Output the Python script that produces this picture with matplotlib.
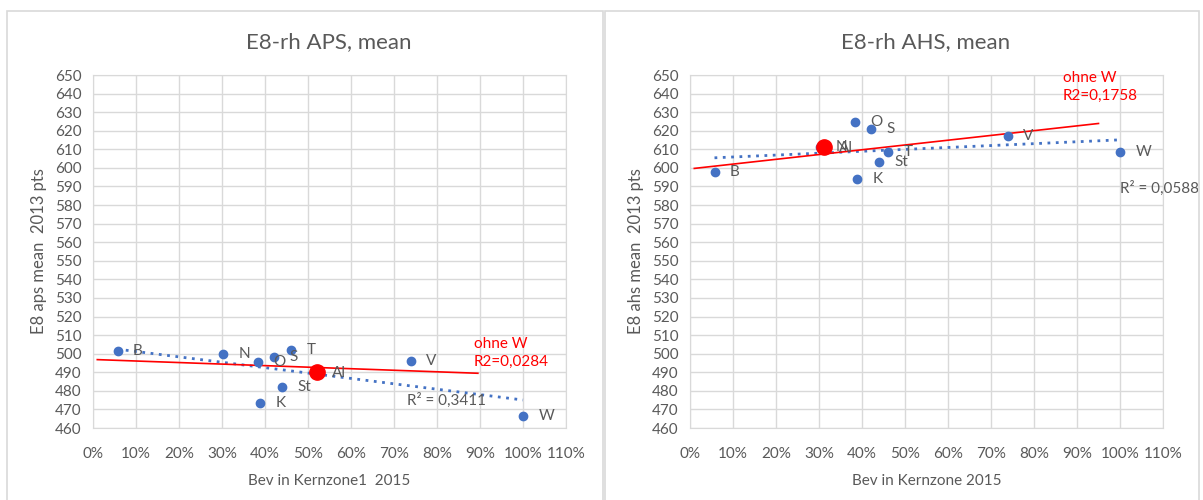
import matplotlib
matplotlib.use("Agg")
import matplotlib.pyplot as plt
from matplotlib.patches import Rectangle
from matplotlib.ticker import PercentFormatter
import numpy as np

plt.rcParams['font.family'] = ['Lato', 'DejaVu Sans']

# shared district data (share of population in core zone)
names = ["B", "N", "O", "S", "T", "St", "K", "V", "W"]
bev = [0.057, 0.302, 0.384, 0.422, 0.461, 0.440, 0.389, 0.739, 1.00]

# E8 mean points 2013
aps = [501.4, 499.8, 495.7, 498.0, 502.0, 482.2, 473.3, 496.2, 466.5]
ahs = [597.6, 611.4, 624.7, 621.1, 608.7, 603.2, 594.0, 617.2, 608.7]

# highlighted district
hl_name = "Al"
hl_aps = (0.520, 490.3)
hl_ahs = (0.311, 611.4)

# span of the hand-fitted "ohne W" line
red_span_aps = [0.01, 0.895]
red_span_ahs = [0.01, 0.95]

yticks = list(range(460, 651, 10))
xticks = [i / 10 for i in range(12)]

GREY = "#595959"
BLUE = "#4472C4"
RED = "#FF0000"
FS = 11

fig = plt.figure(figsize=(12.03, 5.0), dpi=100)

# chart frames
for x0, x1 in [(7, 603), (605, 1199)]:
    fig.patches.append(Rectangle((x0 / 1203, -0.01), (x1 - x0) / 1203, 1 - 11 / 500 + 0.01,
                                 transform=fig.transFigure, fill=False,
                                 edgecolor="#d9d9d9", linewidth=1.2))


def panel(left, yvals, hl, red_span, title, ylabel, xlabel, r2_all, r2_txt, r2_pos, ohne_pos):
    ax = fig.add_axes([left / 1203, 72 / 500, 473 / 1203, 353 / 500])
    ax.set_xlim(0, 1.1)
    ax.set_ylim(460, 650)
    ax.set_xticks(xticks)
    ax.set_yticks(yticks)
    ax.xaxis.set_major_formatter(PercentFormatter(1.0, decimals=0))
    ax.grid(True, color="#d9d9d9", linewidth=1)
    ax.set_axisbelow(True)
    for s in ax.spines.values():
        s.set_color("#d9d9d9")
    ax.tick_params(length=0, labelsize=FS, colors=GREY, pad=8)
    ax.tick_params(axis="x", pad=14)

    x = np.array(bev)
    y = np.array(yvals)

    # trendline over all points
    k, d = np.polyfit(x, y, 1)
    xs = np.array([x.min(), x.max()])
    ax.plot(xs, k * xs + d, linestyle=(0, (1, 2)), color=BLUE, linewidth=2)

    # trendline without W
    m = np.array(names) != "W"
    k2, d2 = np.polyfit(x[m], y[m], 1)
    xr = np.array(red_span)
    ax.plot(xr, k2 * xr + d2, color=RED, linewidth=1.2)

    ax.plot(x, y, "o", color=BLUE, markersize=6, zorder=3)
    ax.plot([hl[0]], [hl[1]], "o", color=RED, markersize=11, zorder=4)

    for n, xi, yi in zip(names, x, y):
        ax.annotate(n, (xi, yi), xytext=(11, 0), textcoords="offset points",
                    va="center", ha="left", fontsize=FS, color=GREY)
    ax.annotate(hl_name, hl, xytext=(11, -1), textcoords="offset points",
                va="center", ha="left", fontsize=FS, color=GREY)

    ax.text(r2_pos[0], r2_pos[1], r2_all, fontsize=FS, color=GREY, va="center",
            clip_on=False)
    ax.text(ohne_pos[0], ohne_pos[1], "ohne W\n" + r2_txt, fontsize=FS, color=RED,
            va="center", linespacing=1.4, clip_on=False)

    ax.set_ylabel(ylabel, fontsize=FS + 1, color=GREY, labelpad=6)
    ax.set_xlabel(xlabel, fontsize=FS, color=GREY, labelpad=9)
    fig.text((left + 236) / 1203, 1 - 42 / 500, title, ha="center", va="center",
             fontsize=16, color=GREY)
    return ax


panel(93, aps, hl_aps, red_span_aps, "E8-rh APS, mean", "E8 aps mean  2013 pts",
      "Bev in Kernzone1  2015", "R² = 0,3411", "R2=0,0284", (0.73, 475.0), (0.886, 500.5))
panel(690, ahs, hl_ahs, red_span_ahs, "E8-rh AHS, mean", "E8 ahs mean  2013 pts",
      "Bev in Kernzone 2015", "R² = 0,0588", "R2=0,1758", (1.0, 589.2), (0.867, 643.5))

fig.savefig("out.png", dpi=100)
